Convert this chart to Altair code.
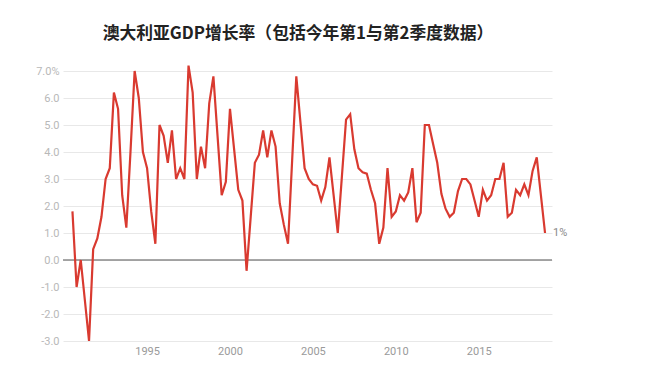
import altair as alt
import pandas as pd

# quarterly GDP growth (%), 1990 Q3 .. 2019 Q1
growth = [
    1.8, -1.0, 0.0, -1.5, -3.0, 0.4, 0.8, 1.6, 3.0, 3.4,
    6.2, 5.6, 2.4, 1.2, 4.0, 7.0, 6.0, 4.0, 3.4, 1.8,
    0.6, 5.0, 4.6, 3.6, 4.8, 3.0, 3.4, 3.0, 7.2, 6.2,
    3.0, 4.2, 3.4, 5.8, 6.8, 4.6, 2.4, 2.9, 5.6, 4.1,
    2.6, 2.2, -0.4, 1.6, 3.6, 3.9, 4.8, 3.8, 4.8, 4.2,
    2.1, 1.3, 0.6, 3.7, 6.8, 5.1, 3.4, 3.0, 2.8, 2.75,
    2.2, 2.7, 3.8, 2.4, 1.0, 3.1, 5.2, 5.4, 4.1, 3.4,
    3.25, 3.2, 2.6, 2.1, 0.6, 1.2, 3.4, 1.6, 1.8, 2.4,
    2.2, 2.5, 3.4, 1.4, 1.75, 5.0, 5.0, 4.3, 3.6, 2.45,
    1.9, 1.6, 1.75, 2.55, 3.0, 3.0, 2.8, 2.2, 1.6, 2.6,
    2.2, 2.4, 3.0, 3.0, 3.6, 1.6, 1.75, 2.6, 2.4, 2.8,
    2.4, 3.3, 3.8, 2.4, 1.0,
]
start_year, start_q = 1990, 3
quarters = []
y, q = start_year, start_q
for _ in growth:
    quarters.append((y, q))
    q += 1
    if q > 4:
        q = 1
        y += 1
x_ticks = [1995, 2000, 2005, 2010, 2015]
y_ticks = [-3, -2, -1, 0, 1, 2, 3, 4, 5, 6, 7]
end_label = "1%"
title = "澳大利亚GDP增长率（包括今年第1与第2季度数据）"

df = pd.DataFrame({
    "t": [yy + (qq - 1) / 4 for yy, qq in quarters],
    "v": growth,
})
last = df.tail(1).assign(label=end_label)

xs = alt.Scale(domain=[1989.93, 2019.42], nice=False, zero=False)
ys = alt.Scale(domain=[-3, 7], nice=False)

x_axis = alt.Axis(values=x_ticks, format="d", grid=False, domain=False,
                  ticks=False, labelColor="#9a9a9a", labelFont="Roboto",
                  labelFontSize=11, labelPadding=4, title=None)
y_axis = alt.Axis(values=y_ticks, grid=True, gridColor="#e8e8e8",
                  domain=False, ticks=False, labelColor="#b8b8b8",
                  labelFont="Roboto", labelFontSize=11, labelPadding=4,
                  labelOverlap=False, labelBound=False, tickCount=11,
                  labelExpr="datum.value == 7 ? '7.0%' : replace(format(datum.value, '.1f'), '\u2212', '-')",
                  title=None)

line = alt.Chart(df).mark_line().encode(
    x=alt.X("t:Q", scale=xs, axis=x_axis),
    y=alt.Y("v:Q", scale=ys, axis=y_axis),
    color=alt.value("#d93a30"),
    strokeWidth=alt.value(2.2),
)

zero = alt.Chart(pd.DataFrame({"v": [0]})).mark_rule(color="#8a8a8a", strokeWidth=1.5).encode(
    y=alt.Y("v:Q", scale=ys, axis=y_axis)
)

lbl = alt.Chart(last).mark_text(align="left", dx=8, fontSize=11, font="Roboto", color="#888888").encode(
    x=alt.X("t:Q", scale=xs, axis=x_axis), y=alt.Y("v:Q", scale=ys, axis=y_axis), text="label:N"
)

chart = alt.layer(zero, line, lbl).properties(
    width=489, height=270,
    autosize=alt.AutoSizeParams(type="none"),
    padding={"left": 55, "top": 63, "right": 92, "bottom": 31},
    title=alt.TitleParams(title, anchor="start", dx=67, offset=18, fontSize=16.8,
                          font="Noto Sans CJK SC", fontWeight="bold", color="#222222"),
).configure_view(stroke=None)

chart.save("out.html", embed_options={"renderer": "svg", "actions": False})
